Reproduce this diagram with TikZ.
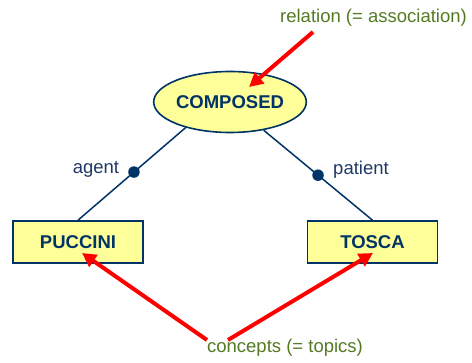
\documentclass[tikz,border=0pt]{standalone}
\usepackage{fontspec}
\setmainfont{Liberation Sans}
\usetikzlibrary{shapes.geometric,arrows.meta}
\definecolor{navy}{RGB}{0,51,102}
\definecolor{lblblue}{RGB}{31,56,100}
\definecolor{grn}{RGB}{84,122,36}
\definecolor{yel}{RGB}{255,255,153}
\tikzset{
  concept/.style={draw=navy, line width=1.6pt, fill=yel, minimum width=130pt, minimum height=42pt, inner sep=0pt,
    font=\fontsize{18.5}{20}\selectfont\bfseries, text=navy},
  relnode/.style={ellipse, draw=navy, line width=1.6pt, fill=yel, minimum width=146pt, minimum height=61pt, inner sep=0pt,
    font=\fontsize{18.5}{20}\selectfont\bfseries, text=navy},
  role/.style={font=\fontsize{18.5}{20}\selectfont, text=lblblue, inner sep=0pt},
  note/.style={font=\fontsize{18.5}{20}\selectfont, text=grn, inner sep=0pt},
  link/.style={draw=navy, line width=1.5pt},
  roledot/.style={circle, fill=navy, inner sep=0pt, minimum size=11.5pt},
  redarrow/.style={draw=red, line width=4pt, -{Triangle[length=14pt,width=14pt]}}
}
\begin{document}
\begin{tikzpicture}[x=1pt,y=-1pt]
\useasboundingbox (0,0) rectangle (472,363);
\node[relnode] (comp) at (230,102) {COMPOSED};
\node[concept] (puc) at (78,242) {PUCCINI};
\node[concept] (tos) at (372.5,242) {TOSCA};
\draw[link] (comp.210) -- node[pos=0.48, roledot] (d1) {} (puc.north);
\draw[link] (comp.320) -- node[pos=0.5, roledot] (d2) {} (tos.north);
\node[role] (agent) at (96,169) {agent};
\node[role] (patient) at (361,170) {patient};
\node[note] (rel) at (373.5,18) {relation (= association)};
\node[note] (con) at (285,348) {concepts (= topics)};
\coordinate (relstart) at (313,32);
\coordinate (reltip) at (249,87);
\coordinate (c1) at (207,340);
\coordinate (c2) at (228,340);
\coordinate (puctip) at (82,253);
\coordinate (tostip) at (373,253);
\draw[redarrow] (relstart) -- (reltip);
\draw[redarrow] (c1) -- (puctip);
\draw[redarrow] (c2) -- (tostip);
\end{tikzpicture}
\end{document}
